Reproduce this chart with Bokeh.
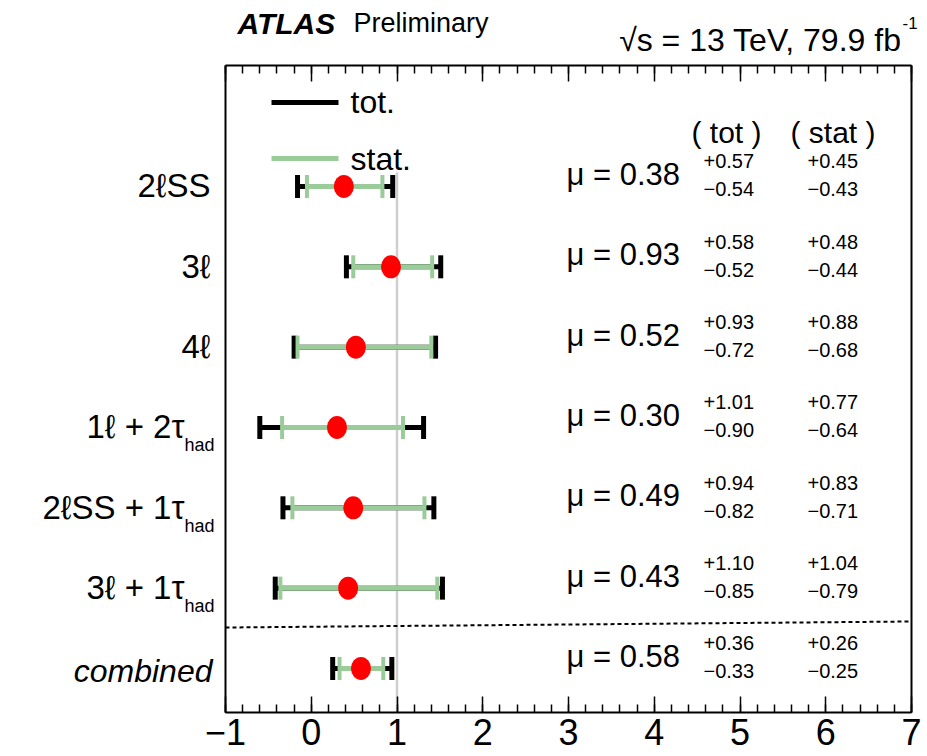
from bokeh.plotting import figure
from bokeh.models import Range1d, LinearAxis, SingleIntervalTicker, ColumnDataSource
from bokeh.core.properties import value
from bokeh.embed import file_html
from bokeh.resources import INLINE

# ---------------- data ----------------
channels = ["2ℓSS", "3ℓ", "4ℓ", "1ℓ + 2τ", "2ℓSS + 1τ", "3ℓ + 1τ", "combined"]
subscripts = ["", "", "", "had", "had", "had", ""]
mu = [0.38, 0.93, 0.52, 0.30, 0.49, 0.43, 0.58]
tot_up = [0.57, 0.58, 0.93, 1.01, 0.94, 1.10, 0.36]
tot_dn = [0.54, 0.52, 0.72, 0.90, 0.82, 0.85, 0.33]
stat_up = [0.45, 0.48, 0.88, 0.77, 0.83, 1.04, 0.26]
stat_dn = [0.43, 0.44, 0.68, 0.64, 0.71, 0.79, 0.25]
row_y = [6, 5, 4, 3, 2, 1, 0]
sm_mu = 1.0
x_ticks = [-1, 0, 1, 2, 3, 4, 5, 6, 7]
x_tick_labels = ["−1", "0", "1", "2", "3", "4", "5", "6", "7"]

FONT = "Liberation Sans"
GREEN = "#99cc99"

# ---------------- layout (pixel geometry of the plotting box) ----------------
W, H = 927, 756
FL, FR, FT, FB = 225, 911, 65, 712
XMIN, XMAX = -1.0, 7.0
YMIN, YMAX = -0.548, 7.506
PXY = (YMAX - YMIN) / (FB - FT)   # data units per pixel (y)
PXX = (XMAX - XMIN) / (FR - FL)   # data units per pixel (x)


def fx(px):
    return XMIN + (px - FL) * PXX


def fy(py):
    return YMAX - (py - FT) * PXY


def ypx(y):
    return FT + (YMAX - y) / PXY


p = figure(width=W, height=H, x_range=Range1d(fx(0), fx(W)), y_range=Range1d(fy(H), fy(0)),
           x_axis_location=None, y_axis_location=None,
           output_backend="svg", toolbar_location=None,
           min_border_left=0, min_border_right=0, min_border_top=0, min_border_bottom=0)
p.grid.visible = False
p.outline_line_color = None
p.background_fill_color = "white"
p.border_fill_color = "white"

bottom = LinearAxis(fixed_location=YMIN, bounds=(XMIN, XMAX),
                    ticker=SingleIntervalTicker(interval=1, num_minor_ticks=5),
                    major_tick_in=16, major_tick_out=0, minor_tick_in=8, minor_tick_out=0,
                    axis_line_width=2, major_tick_line_width=1.5, minor_tick_line_width=1.5,
                    major_label_standoff=6, major_label_text_font=FONT,
                    major_label_text_font_size="36px", major_label_text_color="black",
                    major_label_overrides={t: l for t, l in zip(x_ticks, x_tick_labels)})
p.add_layout(bottom, "below")

top = LinearAxis(fixed_location=YMAX, bounds=(XMIN, XMAX),
                 ticker=SingleIntervalTicker(interval=1, num_minor_ticks=5),
                 major_tick_in=16, major_tick_out=0, minor_tick_in=8, minor_tick_out=0,
                 axis_line_width=2, major_tick_line_width=1.5, minor_tick_line_width=1.5,
                 major_label_text_color=None, major_label_text_alpha=0,
                 major_label_text_font_size="1px", major_label_standoff=0)
p.add_layout(top, "above")

# side frame lines
p.segment(x0=[XMIN, XMAX], x1=[XMIN, XMAX], y0=[YMIN, YMIN], y1=[YMAX, YMAX],
          line_color="black", line_width=2)

# SM reference line
p.segment(x0=[sm_mu], y0=[fy(172)], x1=[sm_mu], y1=[YMIN], line_color="#cfcfcf", line_width=2.5)

# separator
p.segment(x0=[XMIN], y0=[fy(627)], x1=[XMAX], y1=[fy(621)], line_color="black",
          line_width=2, line_dash="4 3")

src = ColumnDataSource(dict(
    y=row_y, mu=mu,
    tlo=[m - d for m, d in zip(mu, tot_dn)], thi=[m + u for m, u in zip(mu, tot_up)],
    slo=[m - d for m, d in zip(mu, stat_dn)], shi=[m + u for m, u in zip(mu, stat_up)],
))

p.segment(x0="tlo", x1="thi", y0="y", y1="y", source=src, line_color="black", line_width=5)
for col in ("tlo", "thi"):
    p.rect(x=col, y="y", width=5, height=23, width_units="screen", height_units="screen",
           source=src, fill_color="black", line_color=None)
p.segment(x0="slo", x1="shi", y0="y", y1="y", source=src, line_color=GREEN, line_width=5)
for col in ("slo", "shi"):
    p.rect(x=col, y="y", width=4, height=23, width_units="screen", height_units="screen",
           source=src, fill_color=GREEN, line_color=None)
p.ellipse(x="mu", y="y", width=20, height=23, width_units="screen", height_units="screen",
          source=src, fill_color="#ff0000", line_color=None)

# legend samples
p.segment(x0=[fx(271)], x1=[fx(338)], y0=[fy(102)], y1=[fy(102)], line_color="black", line_width=5)
p.segment(x0=[fx(271)], x1=[fx(338)], y0=[fy(158)], y1=[fy(158)], line_color=GREEN, line_width=5)


def put(xs, pys, txt, size, align="left", style="normal"):
    # pys: wanted baseline pixel rows; the renderer sets text ~0.35em below the anchor
    ys = [fy(py - 0.35 * size) for py in pys]
    p.text(x=xs, y=ys, text=txt, text_font=value(FONT), text_font_size="%dpx" % size,
           text_font_style=style, text_align=align, text_baseline="alphabetic",
           text_color="black")


put([fx(350), fx(350)], [113, 170], ["tot.", "stat."], 32)

n = len(mu)
put([fx(566)] * n, [ypx(y) - 1 for y in row_y], ["μ = %.2f" % m for m in mu], 31)
put([fx(703)] * n, [ypx(y) - 18 for y in row_y], ["+%.2f" % v for v in tot_up], 20)
put([fx(703)] * n, [ypx(y) + 10 for y in row_y], ["−%.2f" % v for v in tot_dn], 20)
put([fx(807)] * n, [ypx(y) - 18 for y in row_y], ["+%.2f" % v for v in stat_up], 20)
put([fx(807)] * n, [ypx(y) + 10 for y in row_y], ["−%.2f" % v for v in stat_dn], 20)
put([fx(691), fx(790)], [142, 142], ["( tot )", "( stat )"], 30)

# channel labels
for name, sub, y in zip(channels, subscripts, row_y):
    base = ypx(y)
    if name == "combined":
        put([fx(212)], [base + 14], [name], 32, align="right", style="italic")
    elif sub:
        put([fx(184)], [base + 11], [name], 33, align="right")
        put([fx(184)], [base + 24], [sub], 18, align="left")
    else:
        put([fx(210)], [base + 11], [name], 33, align="right")

# header texts
put([fx(237)], [33], ["ATLAS"], 30, style="bold italic")
put([fx(353)], [32], ["Preliminary"], 27)
put([fx(901)], [51], ["√s = 13 TeV, 79.9 fb"], 32, align="right")
put([fx(902)], [28], ["-1"], 17)

open("out.html", "w").write(file_html(p, INLINE))
